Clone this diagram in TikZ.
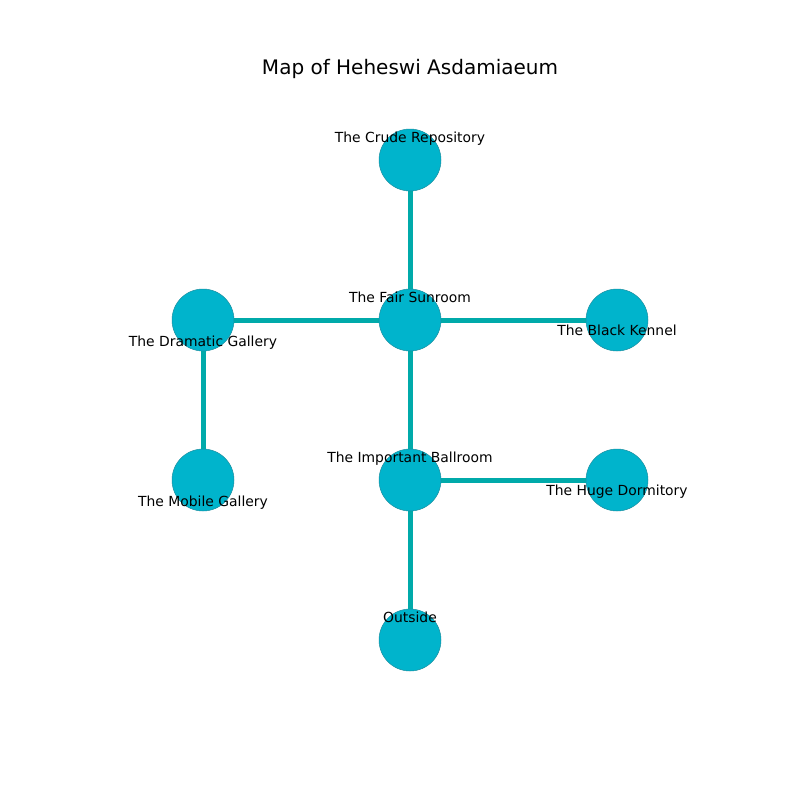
\documentclass[tikz,border=0pt]{standalone}
\usepackage{fontspec}
\setmainfont{DejaVu Sans}
\definecolor{nodefill}{HTML}{00B4CC}
\definecolor{nodeline}{HTML}{1C8FA0}
\definecolor{edgecol}{HTML}{00AAAA}
\begin{document}
\begin{tikzpicture}[x=1pt,y=-1pt,
  room/.style={circle,fill=nodefill,draw=nodeline,line width=0.5pt,minimum size=62pt,inner sep=0pt},
  lbl/.style={inner sep=0pt,text height=10.5pt,text depth=3.2pt,font=\fontsize{13.9}{16}\selectfont},
  edge/.style={draw=edgecol,line width=5pt}]
\useasboundingbox (0,0) rectangle (800,800);
\fill[white] (0,0) rectangle (800,800);
\node[font=\fontsize{20}{24}\selectfont,inner sep=0pt] (title) at (410,69) {Map of Heheswi Asdamiaeum};
\coordinate (cC) at (410,160);
\coordinate (cF) at (410,320);
\coordinate (cB) at (617,320);
\coordinate (cD) at (203,320);
\coordinate (cM) at (203,480);
\coordinate (cI) at (410,480);
\coordinate (cH) at (617,480);
\coordinate (cO) at (410,640);
\draw[edge] (cC) -- (cF);
\draw[edge] (cF) -- (cB);
\draw[edge] (cF) -- (cD);
\draw[edge] (cD) -- (cM);
\draw[edge] (cF) -- (cI);
\draw[edge] (cI) -- (cH);
\draw[edge] (cI) -- (cO);
\node[room] (nC) at (cC) {};
\node[room] (nF) at (cF) {};
\node[room] (nB) at (cB) {};
\node[room] (nD) at (cD) {};
\node[room] (nM) at (cM) {};
\node[room] (nI) at (cI) {};
\node[room] (nH) at (cH) {};
\node[room] (nO) at (cO) {};
\node[lbl] (lC) at (410,139) {The Crude Repository};
\node[lbl] (lF) at (410,299) {The Fair Sunroom};
\node[lbl] (lB) at (617,332) {The Black Kennel};
\node[lbl] (lD) at (203,343) {The Dramatic Gallery};
\node[lbl] (lM) at (203,503) {The Mobile Gallery};
\node[lbl] (lI) at (410,459) {The Important Ballroom};
\node[lbl] (lH) at (617,492) {The Huge Dormitory};
\node[lbl] (lO) at (410,619) {Outside};
\end{tikzpicture}
\end{document}
